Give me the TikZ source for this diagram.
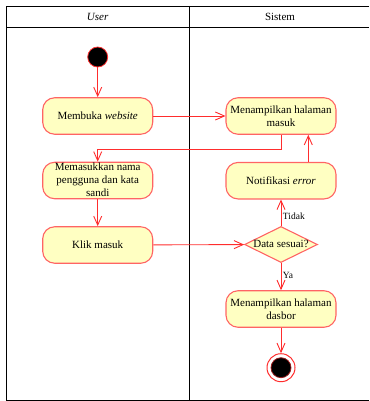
\documentclass[tikz,border=0pt]{standalone}
\usepackage{fontspec}
\setmainfont{Liberation Serif}
\definecolor{umlred}{RGB}{255,45,45}
\definecolor{umlpink}{RGB}{255,100,100}
\definecolor{umlyellow}{RGB}{255,255,194}
\usetikzlibrary{arrows.meta,positioning,shapes.geometric}
\newcommand{\flatbox}[1]{\raisebox{-3pt}[0pt][0pt]{#1}}

\begin{document}
\begin{tikzpicture}[x=1pt, y=-1pt,
    action/.style={rectangle, rounded corners=12pt, minimum width=110pt, minimum height=36.5pt,
      draw=umlpink, fill=umlyellow, line width=1.1pt, align=center, inner sep=1pt,
      font=\fontsize{11}{13.3}\selectfont},
    decision/.style={diamond, minimum width=73pt, minimum height=36pt, inner sep=0pt,
      draw=umlpink, fill=umlyellow, line width=1.1pt, font=\fontsize{11}{13.3}\selectfont},
    flow/.style={-{Straight Barb[length=9pt, width=8pt]}, umlred, line width=0.9pt},
    guard/.style={text=black, font=\fontsize{9.5}{10}\selectfont, inner sep=1.5pt}
  ]
    \useasboundingbox (0,0) rectangle (369,401);
    % Swimlanes
    \draw[line width=0.9pt] (369,6) -- (6.5,6) -- (6.5,400.5) -- (369,400.5);
    \draw[line width=0.9pt] (6.5,27) -- (369,27);
    \draw[line width=0.9pt] (189.5,6) -- (189.5,400.5);
    \node[font=\fontsize{11}{13}\selectfont] (laneuser) at (97.7,17) {\textit{User}};
    \node[font=\fontsize{11}{13}\selectfont] (lanesys) at (280,17) {Sistem};
    % Start and end
    \node[circle, fill=black, draw=umlred, line width=0.8pt, minimum size=20pt, inner sep=0pt] (start) at (97.7,57) {};
    \node[circle, draw=umlred, line width=1pt, minimum size=28pt, inner sep=0pt] (finish) at (281,367.7) {};
    \node[circle, fill=black, draw=umlred!60!black, line width=0.8pt, minimum size=20pt, inner sep=0pt] (finishdot) at (finish) {};
    % Actions
    \node[action] (membuka) at (97.7,116) {Membuka \textit{website}};
    \node[action] (masuk) at (281,116) {Menampilkan halaman\\masuk};
    \node[action] (isi) at (97.7,180.5) {\flatbox{\begin{tabular}{@{}c@{}}Memasukkan nama\\pengguna dan kata\\sandi\end{tabular}}};
    \node[action] (notif) at (281,180.7) {Notifikasi \textit{error}};
    \node[action] (klik) at (97.7,245) {Klik masuk};
    \node[decision] (cek) at (281,244.5) {\makebox[0pt]{\flatbox{Data sesuai?}}};
    \node[action] (dasbor) at (281,309) {Menampilkan halaman\\dasbor};
    % Flows
    \draw[flow] (start) -- (membuka);
    \draw[flow] (membuka) -- (masuk);
    \draw[flow] (masuk.south) -- ++(0,14.3) -| (isi.north);
    \draw[flow] (isi) -- (klik);
    \draw[flow] (klik) -- (cek);
    \draw[flow] (cek.north) -- node[guard, right, pos=0.35]{Tidak} (notif.south);
    \draw[flow] ([xshift=27.3pt]notif.north) -- ([xshift=27.3pt]masuk.south);
    \draw[flow] (cek.south) -- node[guard, right, pos=0.45]{Ya} (dasbor.north);
    \draw[flow] (dasbor) -- (finish);
  \end{tikzpicture}
\end{document}
